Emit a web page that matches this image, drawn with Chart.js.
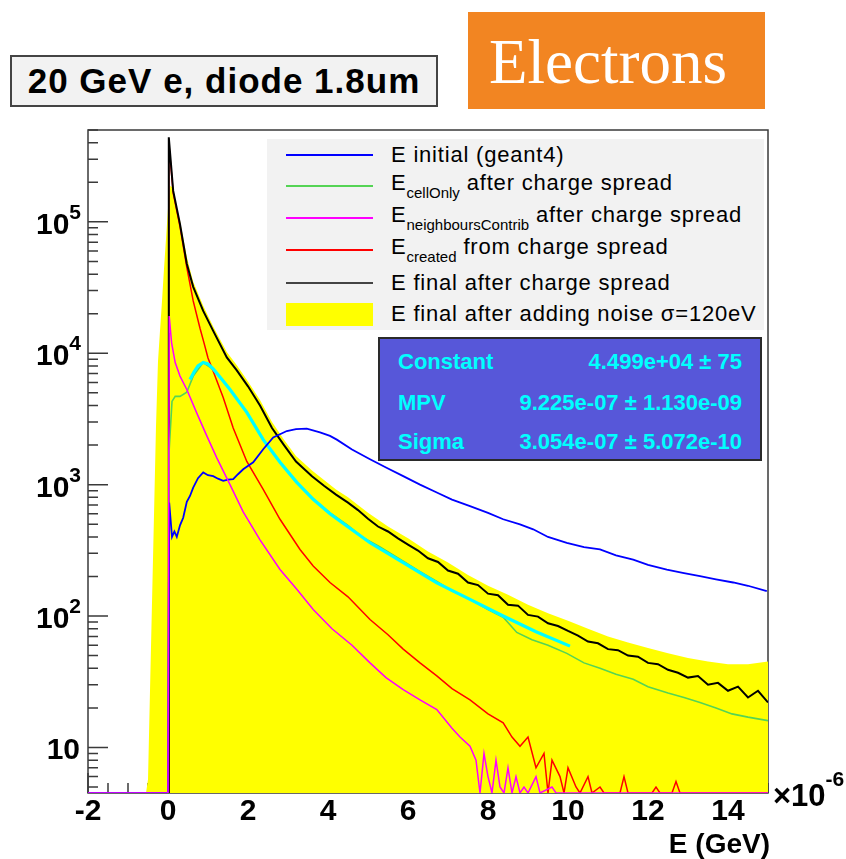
<!doctype html>
<html>
<head>
<meta charset="utf-8">
<title>20 GeV e, diode 1.8um</title>
<script src="https://cdnjs.cloudflare.com/ajax/libs/Chart.js/4.4.1/chart.umd.min.js"></script>
<style>
  body { margin: 0; background: #fff; font-family: "Liberation Sans", Arial, sans-serif; }
  #wrap { position: relative; width: 846px; height: 859px; }
  canvas { position: absolute; left: 0; top: 0; }
  #title {
    position: absolute; left: 10px; top: 55px; width: 424px; height: 48px;
    background: #f2f2f2; border: 2px solid #444;
    font-weight: bold; font-size: 35px; letter-spacing: 1px;
    text-align: center; line-height: 48px; white-space: nowrap;
  }
  #tag {
    position: absolute; left: 468px; top: 12px; width: 276px; height: 97px; padding-left: 21px;
    background: #f28522; color: #fff;
    font-family: "Liberation Serif", "Times New Roman", serif; font-size: 63px; line-height: 100px;
  }
  #legend { position: absolute; left: 267px; top: 139px; width: 497px; height: 191px; background: #f2f2f2; }
  #legend .sample { position: absolute; left: 19px; width: 87px; height: 0; }
  #legend .txt { position: absolute; left: 124px; height: 30px; line-height: 30px; font-size: 22px; letter-spacing: 0.8px; white-space: nowrap; }
  #legend .txt sub { font-size: 15px; letter-spacing: 0; vertical-align: -8px; line-height: 0; }
  #stats {
    position: absolute; left: 378px; top: 337px; width: 380px; height: 120px;
    background: #5757d9; border: 2px solid #2a2a2a; color: #00ffff;
    font-weight: bold; font-size: 22px;
  }
  #stats .row { position: absolute; left: 18px; right: 18px; height: 30px; line-height: 30px; }
  #stats .val { position: absolute; right: 0; top: 0; }
</style>
</head>
<body>
<div id="wrap">
  <canvas id="canvas" width="846" height="859"></canvas>
  <div id="title">20 GeV e, diode 1.8um</div>
  <div id="tag">Electrons</div>
  <div id="legend"></div>
  <div id="stats"></div>
</div>
<script>
// axis ranges (E in units of 1e-6 GeV)
var X_MIN = -2, X_MAX = 15;
var Y_MIN = 4.5, Y_MAX = 5e5;
var xTicks = [-2, 0, 2, 4, 6, 8, 10, 12, 14];
var yDecades = [1, 2, 3, 4, 5];

// E final after adding noise (yellow)
var noiseE = [-2, -0.55, -0.5, -0.45, -0.4, -0.35, -0.3, -0.25, -0.2, -0.15, -0.1, -0.05, 0, 0.06, 0.13, 0.2, 0.3, 0.47, 0.63, 0.88, 1.13, 1.47, 1.72, 2.0, 2.3, 2.6, 2.9, 3.2, 3.6, 4.2, 4.5, 5.0, 5.5, 6.0, 6.5, 7.0, 7.5, 8.0, 8.5, 9.0, 9.5, 10.0, 10.5, 11.0, 11.5, 12.0, 12.5, 13.0, 13.5, 14.0, 14.5, 15.0];
var noiseN = [0, 0, 5.7, 27, 126, 590, 2800, 8700, 14800, 25000, 44000, 74000, 127000, 188000, 180000, 135000, 102000, 54000, 35000, 23000, 16000, 10200, 8100, 6100, 4400, 3000, 2200, 1650, 1280, 920, 800, 610, 480, 390, 310, 255, 205, 170, 145, 122, 105, 92, 80, 70, 63, 57, 52, 48, 45, 43, 43, 45];

// E final after charge spread (black)
var finalE = [-2, 0, 0.02, 0.13, 0.3, 0.47, 0.63, 0.88, 1.13, 1.47, 1.72, 2.0, 2.3, 2.6, 2.9, 3.2, 3.6, 3.9, 4.2, 4.5, 4.75, 5.0, 5.25, 5.5, 5.75, 6.0, 6.25, 6.5, 6.75, 7.0, 7.25, 7.5, 7.75, 8.0, 8.25, 8.5, 8.75, 9.0, 9.25, 9.5, 9.75, 10.0, 10.25, 10.5, 10.75, 11.0, 11.25, 11.5, 11.75, 12.0, 12.25, 12.5, 12.75, 13.0, 13.25, 13.5, 13.75, 14.0, 14.25, 14.5, 14.75, 15.0];
var finalN = [0, 0, 440000, 172000, 96000, 48000, 32000, 21000, 14800, 9300, 7400, 5600, 4000, 2700, 2000, 1500, 1160, 980, 840, 730, 640, 550, 480, 440, 390, 350, 315, 275, 258, 222, 210, 180, 172, 148, 144, 122, 120, 102, 99, 88, 84, 77, 71, 64, 62, 56, 55, 50, 49, 44, 43, 39, 37, 34, 35, 30, 31, 27, 29, 24, 27, 22];

// E created from charge spread (red)
var createdE = [-2, 0, 0.02, 0.13, 0.3, 0.47, 0.63, 0.8, 0.9, 1.0, 1.13, 1.38, 1.63, 1.97, 2.38, 2.8, 3.3, 3.63, 4.05, 4.5, 5.05, 5.5, 5.88, 6.3, 6.72, 7.1, 7.55, 8.0, 8.38, 8.6, 8.8, 9.0, 9.2, 9.4, 9.5, 9.6, 9.8, 9.9, 10.0, 10.2, 10.3, 10.5, 10.6, 10.8, 10.9, 11.3, 11.4, 11.5, 12.1, 12.2, 12.3, 12.6, 12.7, 12.8, 15];
var createdN = [0, 0, 400000, 165000, 92000, 45000, 25000, 15500, 12000, 9200, 7300, 4600, 2700, 1500, 920, 545, 321, 240, 180, 140, 94, 72, 56, 44, 35, 28, 23, 18, 15.4, 12, 10.2, 12, 7, 9, 0, 8, 6, 0, 7, 5, 0, 6, 0, 5, 0, 0, 6, 0, 0, 5, 0, 0, 5.5, 0, 0];

// E neighboursContrib after charge spread (magenta)
var neighE = [-2, 0, 0.03, 0.09, 0.18, 0.3, 0.47, 0.72, 0.97, 1.22, 1.55, 1.88, 2.3, 2.8, 3.22, 3.63, 4.1, 4.6, 5.05, 5.45, 5.88, 6.3, 6.72, 7.1, 7.3, 7.55, 7.7, 7.8, 7.9, 8.0, 8.1, 8.2, 8.3, 8.4, 8.5, 8.6, 8.7, 8.8, 8.9, 9.0, 9.2, 9.3, 9.6, 9.7, 15];
var neighN = [0, 0, 19200, 12000, 8500, 6700, 5300, 3500, 2350, 1600, 1000, 620, 380, 226, 160, 112, 80, 60, 44, 34, 27.5, 23, 19.4, 14, 12, 10.2, 8, 0, 9, 6, 0, 8, 5, 0, 7, 0, 6, 0, 5, 0, 6, 0, 5, 0, 0];

// E cellOnly after charge spread (green)
var cellE = [-2, 0, 0.03, 0.1, 0.18, 0.3, 0.47, 0.63, 0.88, 1.13, 1.55, 1.97, 2.38, 2.8, 3.22, 3.63, 4.05, 4.47, 4.88, 5.3, 5.88, 6.3, 6.72, 7.1, 7.55, 8.0, 8.38, 8.72, 9.1, 9.5, 9.97, 10.4, 10.8, 11.2, 11.63, 12.0, 12.5, 12.9, 13.3, 13.7, 14.1, 14.5, 15];
var cellN = [0, 0, 1850, 4300, 4700, 4700, 5050, 6700, 8500, 7550, 5300, 3550, 2200, 1480, 1040, 780, 610, 495, 395, 335, 262, 218, 183, 155, 134, 112, 98, 75, 66, 60, 52, 44, 40, 36, 33, 29, 26, 24, 22, 20, 18, 17, 16];

// Landau fit to E cellOnly (cyan)
var fitE = [0.55, 0.65, 0.75, 0.88, 1.0, 1.13, 1.35, 1.55, 1.97, 2.38, 2.8, 3.22, 3.63, 4.05, 4.47, 5.05, 5.88, 6.72, 7.55, 8.38, 9.2, 10.05];
var fitN = [6300, 7200, 8000, 8500, 8300, 7600, 6300, 5300, 3550, 2200, 1480, 1040, 773, 600, 484, 361, 255, 179, 134, 100, 76, 59];

// E initial (geant4) (blue)
var initE = [-2, 0, 0.03, 0.1, 0.16, 0.22, 0.3, 0.38, 0.47, 0.55, 0.63, 0.75, 0.88, 1.0, 1.13, 1.25, 1.38, 1.5, 1.63, 1.75, 1.88, 2.13, 2.38, 2.63, 2.97, 3.2, 3.47, 3.8, 4.05, 4.22, 4.6, 5.05, 5.45, 5.88, 6.3, 6.72, 7.1, 7.55, 8.0, 8.38, 8.8, 9.13, 9.5, 9.97, 10.4, 10.8, 11.2, 11.63, 12.0, 12.47, 12.9, 13.3, 13.7, 14.13, 14.5, 14.97];
var initN = [0, 0, 730, 400, 440, 400, 490, 560, 740, 820, 950, 1120, 1240, 1180, 1160, 1110, 1070, 1090, 1100, 1200, 1310, 1480, 1860, 2290, 2560, 2650, 2670, 2500, 2350, 2200, 1850, 1560, 1350, 1160, 1000, 871, 770, 687, 610, 545, 498, 457, 400, 361, 335, 321, 290, 269, 245, 226, 212, 201, 190, 180, 170, 155];

// fit box
var statNames = ['Constant', 'MPV', 'Sigma'];
var statValues = ['4.499e+04 \u00b1 75', '9.225e-07 \u00b1 1.130e-09', '3.054e-07 \u00b1 5.072e-10'];

var BLUE = '#0000ff', GREEN = '#55d455', MAGENTA = '#ff00ff', RED = '#ff0000', BLACK = '#000000', YELLOW = '#ffff00', CYAN = '#00ffff';

// empty bins sit on the bottom of the frame, as ROOT draws them
function points(xs, ys) {
	return xs.map(function(x, i) { return { x: x, y: ys[i] > 0 ? ys[i] : Y_MIN }; });
}

function histo(label, xs, ys, color, width, order) {
	return {
		label: label, data: points(xs, ys), borderColor: color, borderWidth: width,
		pointRadius: 0, tension: 0, fill: false, order: order
	};
}

var rootFrame = {
	id: 'rootFrame',
	beforeDatasetsDraw: function(chart) {
		var ctx = chart.ctx, a = chart.chartArea, xs = chart.scales.x, ys = chart.scales.y;
		ctx.save();
		ctx.strokeStyle = '#3a3a3a';
		ctx.lineWidth = 1.5;
		ctx.strokeRect(a.left, a.top, a.right - a.left, a.bottom - a.top);
		ctx.beginPath();
		for (var v = X_MIN; v <= X_MAX; v += 0.5) {
			var px = xs.getPixelForValue(v);
			var len = (v % 2 === 0) ? 20 : 10;
			ctx.moveTo(px, a.bottom);
			ctx.lineTo(px, a.bottom - len);
		}
		for (var d = 0; d <= 5; d++) {
			for (var m = 1; m <= 9; m++) {
				var val = m * Math.pow(10, d);
				if (val < Y_MIN || val > Y_MAX) continue;
				var py = ys.getPixelForValue(val);
				ctx.moveTo(a.left, py);
				ctx.lineTo(a.left + (m === 1 ? 20 : 10), py);
			}
		}
		ctx.stroke();
		ctx.restore();
	},
	afterDraw: function(chart) {
		var ctx = chart.ctx, a = chart.chartArea, xs = chart.scales.x, ys = chart.scales.y;
		var font = '"Liberation Sans", Arial, sans-serif';
		ctx.save();
		ctx.fillStyle = '#000';
		ctx.font = 'bold 30px ' + font;
		ctx.textAlign = 'center';
		ctx.textBaseline = 'alphabetic';
		xTicks.forEach(function(t) {
			ctx.fillText(String(t), xs.getPixelForValue(t), 820);
		});
		yDecades.forEach(function(d) {
			var py = ys.getPixelForValue(Math.pow(10, d));
			ctx.textAlign = 'right';
			if (d === 1) {
				ctx.font = 'bold 30px ' + font;
				ctx.fillText('10', 80, py + 12);
			} else {
				ctx.font = 'bold 21px ' + font;
				var ew = ctx.measureText(String(d)).width;
				ctx.fillText(String(d), 81, py - 3);
				ctx.font = 'bold 30px ' + font;
				ctx.fillText('10', 81 - ew, py + 12);
			}
		});
		// axis multiplier and title
		ctx.textAlign = 'left';
		ctx.font = 'bold 31px ' + font;
		ctx.fillText('\u00d710', a.right + 5, 806);
		var w = ctx.measureText('\u00d710').width;
		ctx.font = 'bold 21px ' + font;
		ctx.fillText('-6', a.right + 5 + w, 786);
		ctx.textAlign = 'right';
		ctx.font = 'bold 28px ' + font;
		ctx.fillText('E (GeV)', 770, 853);
		ctx.restore();
	}
};

var yellowSet = histo('E final after adding noise \u03c3=120eV', noiseE, noiseN, YELLOW, 0, 10);
yellowSet.fill = 'start';
yellowSet.backgroundColor = YELLOW;

var datasets = [
	yellowSet,
	histo('E created from charge spread', createdE, createdN, RED, 1.5, 7),
	histo('E final after charge spread', finalE, finalN, BLACK, 2, 6),
	histo('E cellOnly after charge spread', cellE, cellN, GREEN, 1.6, 5),
	histo('Landau fit', fitE, fitN, CYAN, 3.2, 4),
	histo('E initial (geant4)', initE, initN, BLUE, 1.8, 3),
	histo('E neighboursContrib after charge spread', neighE, neighN, MAGENTA, 1.5, 2)
];

new Chart(document.getElementById('canvas'), {
	type: 'line',
	data: { datasets: datasets },
	options: {
		responsive: false,
		animation: false,
		layout: { padding: { left: 88, right: 78, top: 130, bottom: 66 } },
		plugins: { legend: { display: false }, tooltip: { enabled: false } },
		scales: {
			x: { type: 'linear', min: X_MIN, max: X_MAX, display: false },
			y: { type: 'logarithmic', min: Y_MIN, max: Y_MAX, display: false }
		}
	},
	plugins: [rootFrame]
});

// legend box (ROOT TLegend look)
var legendRows = [
	{ color: BLUE, center: 16, html: 'E initial (geant4)' },
	{ color: GREEN, center: 47, html: 'E<sub>cellOnly</sub> after charge spread' },
	{ color: MAGENTA, center: 79, html: 'E<sub>neighboursContrib</sub> after charge spread' },
	{ color: RED, center: 111, html: 'E<sub>created</sub> from charge spread' },
	{ color: '#444', center: 144, html: 'E final after charge spread' },
	{ box: YELLOW, center: 175, html: 'E final after adding noise \u03c3=120eV' }
];
var legend = document.getElementById('legend');
legendRows.forEach(function(r) {
	var s = document.createElement('div');
	s.className = 'sample';
	if (r.box) {
		s.style.top = (r.center - 11) + 'px';
		s.style.height = '23px';
		s.style.background = r.box;
	} else {
		s.style.top = (r.center - 1) + 'px';
		s.style.borderTop = '2px solid ' + r.color;
	}
	legend.appendChild(s);
	var t = document.createElement('div');
	t.className = 'txt';
	t.style.top = (r.center - 15 - (r.html.indexOf('<sub>') >= 0 ? 3 : 0)) + 'px';
	t.innerHTML = r.html;
	legend.appendChild(t);
});

var stats = document.getElementById('stats');
var rowTops = [8, 49, 88];
statNames.forEach(function(name, i) {
	var r = document.createElement('div');
	r.className = 'row';
	r.style.top = rowTops[i] + 'px';
	r.innerHTML = name + '<span class="val">' + statValues[i] + '</span>';
	stats.appendChild(r);
});
</script>
</body>
</html>
